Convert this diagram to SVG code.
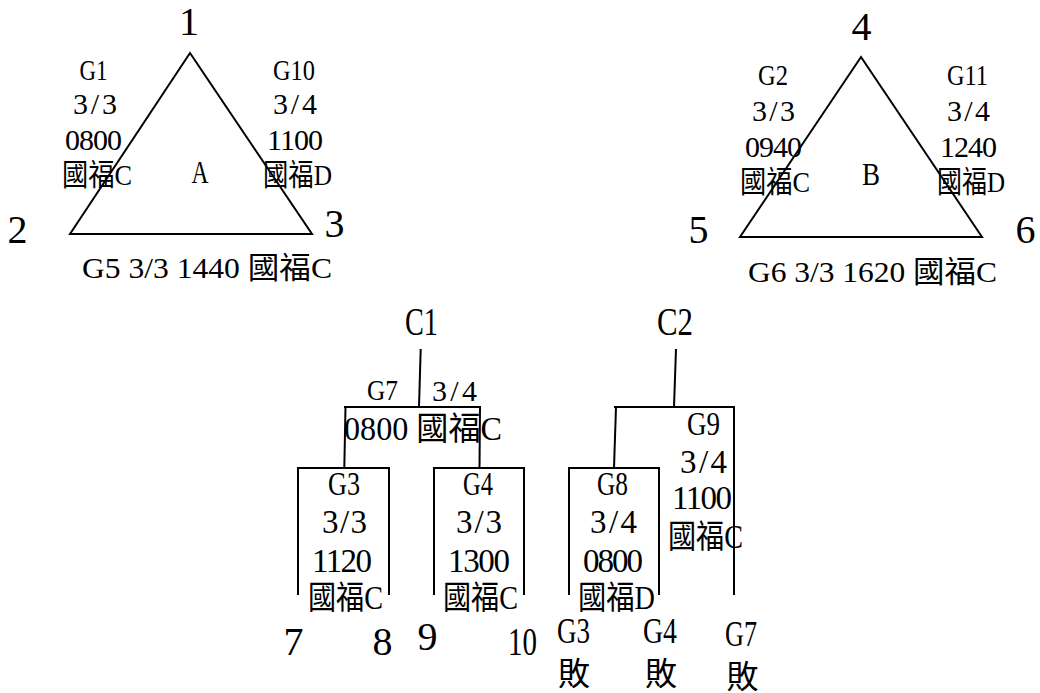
<svg xmlns="http://www.w3.org/2000/svg" width="1040" height="693" viewBox="0 0 1040 693">
<style>
text { font-family: "Liberation Serif", "Noto Sans CJK TC", serif; fill: #000; text-anchor: middle; }
.b { font-size: 40px; }
.m { font-size: 32px; }
.s { font-size: 30px; }
.t { font-size: 33px; }
.g { font-size: 35px; }
.k { font-size: 32px; }
.ln { fill: none; stroke: #000; stroke-width: 2; }
</style>
<rect width="1040" height="693" fill="#fff"/>

<g id="groupA">
  <polygon class="ln" points="190,53 70,234 312,234"/>
  <text class="b" x="189" y="35">1</text>
  <text class="b" x="17.5" y="243">2</text>
  <text class="b" x="334.5" y="237">3</text>
  <text class="m" x="200" y="183" textLength="17" lengthAdjust="spacingAndGlyphs">A</text>
  <g id="G1">
    <text class="s" x="93.5" y="80" textLength="28" lengthAdjust="spacingAndGlyphs">G1</text>
    <text class="s" x="95" y="114" textLength="44" lengthAdjust="spacing">3/3</text>
    <text class="s" x="93.5" y="150" textLength="57" lengthAdjust="spacing">0800</text>
    <text class="s" x="97" y="185" textLength="70" lengthAdjust="spacingAndGlyphs">國福C</text>
  </g>
  <g id="G10">
    <text class="s" x="294" y="80" textLength="42" lengthAdjust="spacingAndGlyphs">G10</text>
    <text class="s" x="295" y="114" textLength="44" lengthAdjust="spacing">3/4</text>
    <text class="s" x="295" y="150" textLength="56" lengthAdjust="spacing">1100</text>
    <text class="s" x="297.5" y="185" textLength="69" lengthAdjust="spacingAndGlyphs">國福D</text>
  </g>
  <text id="G5" class="s" x="207" y="278" textLength="250" lengthAdjust="spacingAndGlyphs">G5 3/3 1440 國福C</text>
</g>

<g id="groupB">
  <polygon class="ln" points="861,57 740,237 982,237"/>
  <text class="b" x="861.5" y="40">4</text>
  <text class="b" x="698.5" y="243">5</text>
  <text class="b" x="1025.5" y="243">6</text>
  <text class="m" x="871" y="185" textLength="18" lengthAdjust="spacingAndGlyphs">B</text>
  <g id="G2">
    <text class="s" x="773" y="85" textLength="30" lengthAdjust="spacingAndGlyphs">G2</text>
    <text class="s" x="773.5" y="121" textLength="43" lengthAdjust="spacing">3/3</text>
    <text class="s" x="773.5" y="157" textLength="57" lengthAdjust="spacing">0940</text>
    <text class="s" x="775" y="192" textLength="70" lengthAdjust="spacingAndGlyphs">國福C</text>
  </g>
  <g id="G11">
    <text class="s" x="967.5" y="85" textLength="41" lengthAdjust="spacingAndGlyphs">G11</text>
    <text class="s" x="968.5" y="121" textLength="43" lengthAdjust="spacing">3/4</text>
    <text class="s" x="968.5" y="157" textLength="57" lengthAdjust="spacing">1240</text>
    <text class="s" x="971" y="192" textLength="68" lengthAdjust="spacingAndGlyphs">國福D</text>
  </g>
  <text id="G6" class="s" x="872.5" y="282" textLength="249" lengthAdjust="spacingAndGlyphs">G6 3/3 1620 國福C</text>
</g>

<g id="connectors">
  <path class="ln" d="M420.7,349 L419,407"/>
  <path class="ln" d="M344,407 H481"/>
  <path class="ln" d="M345.5,407 L344.3,468"/>
  <path class="ln" d="M480,407 L479.5,468"/>
  <path class="ln" d="M298,595 V468 H389 V595"/>
  <path class="ln" d="M434,595 V468 H524 V595"/>
  <path class="ln" d="M676,349 L674,407"/>
  <path class="ln" d="M614,407 H735"/>
  <path class="ln" d="M616,407 L614,468"/>
  <path class="ln" d="M734,407 V595"/>
  <path class="ln" d="M569,595 V468 H659 V595"/>
</g>

<g id="C1">
  <text class="b" x="421.5" y="335" textLength="33" lengthAdjust="spacingAndGlyphs">C1</text>
</g>
<g id="G7">
  <text class="s" x="382.5" y="400" textLength="31" lengthAdjust="spacingAndGlyphs">G7</text>
  <text class="s" x="454.5" y="401" textLength="45" lengthAdjust="spacing">3/4</text>
  <text class="t" x="344" y="440" style="text-anchor:start" textLength="158" lengthAdjust="spacingAndGlyphs">0800  國福C</text>
</g>
<g id="G3">
  <text class="t" x="344" y="495" textLength="32" lengthAdjust="spacingAndGlyphs">G3</text>
  <text class="t" x="344.5" y="533" textLength="45" lengthAdjust="spacing">3/3</text>
  <text class="t" x="342" y="572" textLength="60" lengthAdjust="spacing">1120</text>
  <text class="t" x="345.5" y="609" textLength="75" lengthAdjust="spacingAndGlyphs">國福C</text>
</g>
<g id="G4">
  <text class="t" x="478" y="495" textLength="30" lengthAdjust="spacingAndGlyphs">G4</text>
  <text class="t" x="479" y="533" textLength="46" lengthAdjust="spacing">3/3</text>
  <text class="t" x="479" y="572" textLength="62" lengthAdjust="spacing">1300</text>
  <text class="t" x="480.5" y="609" textLength="75" lengthAdjust="spacingAndGlyphs">國福C</text>
</g>
<g id="teams7to10">
  <text class="b" x="293.5" y="655">7</text>
  <text class="b" x="382.5" y="655">8</text>
  <text class="b" x="427.5" y="650">9</text>
  <text class="b" x="522.5" y="655" textLength="29" lengthAdjust="spacingAndGlyphs">10</text>
</g>

<g id="C2">
  <text class="b" x="675" y="335" textLength="36" lengthAdjust="spacingAndGlyphs">C2</text>
</g>
<g id="G9">
  <text class="t" x="703.5" y="435" textLength="33" lengthAdjust="spacingAndGlyphs">G9</text>
  <text class="t" x="703.5" y="473" textLength="47" lengthAdjust="spacing">3/4</text>
  <text class="t" x="702" y="509" textLength="60" lengthAdjust="spacing">1100</text>
  <text class="t" x="705.5" y="548" textLength="75" lengthAdjust="spacingAndGlyphs">國福C</text>
</g>
<g id="G8">
  <text class="t" x="612.5" y="495" textLength="31" lengthAdjust="spacingAndGlyphs">G8</text>
  <text class="t" x="613.5" y="533" textLength="47" lengthAdjust="spacing">3/4</text>
  <text class="t" x="613" y="572" textLength="60" lengthAdjust="spacing">0800</text>
  <text class="t" x="616.5" y="609" textLength="77" lengthAdjust="spacingAndGlyphs">國福D</text>
</g>
<g id="losers">
  <text class="g" x="573.5" y="643" textLength="33" lengthAdjust="spacingAndGlyphs">G3</text>
  <text class="k" x="574" y="685">敗</text>
  <text class="g" x="660" y="643" textLength="34" lengthAdjust="spacingAndGlyphs">G4</text>
  <text class="k" x="661" y="685">敗</text>
  <text class="g" x="741" y="646" textLength="32" lengthAdjust="spacingAndGlyphs">G7</text>
  <text class="k" x="742.5" y="688">敗</text>
</g>
</svg>
